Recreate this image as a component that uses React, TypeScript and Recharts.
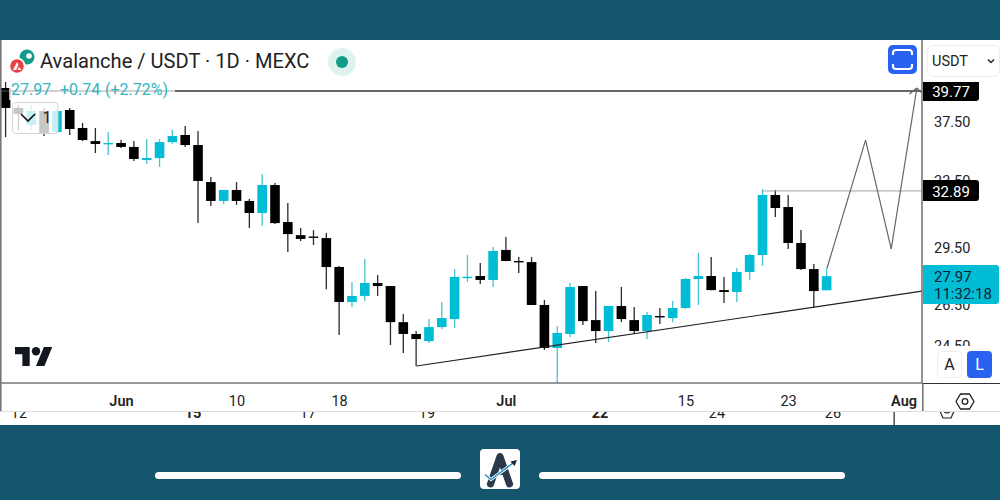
import React from 'react';
import { ComposedChart, Bar, XAxis, YAxis, ReferenceLine } from 'recharts';

const highs = [40.46,38.73,38.73,38.51,38.44,38.51,37.43,37.07,36.79,36.23,36.16,36.30,36.30,36.93,37.21,36.86,33.77,32.95,33.45,32.39,33.96,33.39,32.15,30.65,30.53,30.36,28.52,27.66,28.90,28.03,27.45,26.03,25.20,25.78,26.63,28.35,29.12,28.68,29.57,30.13,29.01,29.01,26.73,25.44,27.61,27.45,27.19,26.43,27.40,26.38,26.13,26.33,26.68,27.88,29.23,29.01,27.93,28.41,29.18,33.01,32.95,32.64,30.53,28.62,28.41];
const opens = [40.00,38.51,37.29,38.29,36.79,38.36,37.07,36.16,35.96,36.03,35.76,34.88,35.01,36.09,36.58,35.89,33.45,32.27,32.95,32.27,31.54,33.26,31.00,30.24,30.16,30.07,28.46,26.63,26.94,27.61,27.45,25.63,25.06,24.72,25.39,25.78,27.91,27.98,27.77,29.40,28.79,28.73,26.48,24.40,25.06,27.45,25.73,25.20,26.43,25.73,25.20,25.93,25.83,26.33,27.82,27.98,27.24,27.14,28.19,29.12,32.64,31.90,29.79,28.35,27.23];
const closes = [38.51,38.07,38.29,36.72,38.29,37.00,36.23,35.96,36.03,35.76,34.95,35.01,36.09,36.51,35.89,33.52,32.27,32.95,32.27,31.54,33.26,30.94,30.30,30.02,30.12,28.46,26.63,26.94,27.61,27.45,25.63,25.06,24.82,25.39,25.83,27.93,27.94,27.77,29.34,28.79,28.73,26.48,24.40,25.11,27.40,25.68,25.20,26.43,25.78,25.20,25.98,25.88,26.33,27.82,27.98,27.24,27.14,28.19,29.12,32.64,31.84,29.79,28.35,27.19,27.97];
const lows = [36.44,36.93,36.93,36.51,36.72,36.58,36.16,35.35,35.22,35.69,34.81,34.62,34.42,35.96,35.76,30.94,31.96,32.09,32.03,30.65,30.77,30.88,29.29,29.90,29.68,27.29,25.01,26.38,26.68,26.94,24.54,24.17,23.58,24.63,25.30,25.35,27.66,27.56,27.40,28.78,28.14,26.48,24.31,22.83,24.91,25.49,24.63,24.68,25.63,25.06,24.82,25.54,25.63,26.28,26.48,27.23,26.58,26.63,27.77,28.52,31.30,29.46,28.30,26.33,27.23];

const dayTicks = [9, 18, 26, 39, 53, 61, 70];
const dayLabels = ['Jun', '10', '18', 'Jul', '15', '23', 'Aug'];
const boldDays = ['Jun', 'Jul', 'Aug'];
const priceTicks = [37.5, 33.5, 29.5, 26.5, 24.5];
const ghostDays = ['12', '15', '17', '19', '22', '24', '26'];
const ghostBold = ['15', '22'];

const zigzagDays = [64, 67, 69, 71];
const zigzagPrices = [28.41, 36.23, 29.46, 40.0];
const arrowDays = [70.42, 71, 71.4];
const arrowPrices = [39.55, 40.0, 39.62];
const trendDays = [32, 71.4];
const trendPrices = [23.58, 27.19];
const resistance = 32.89;
const target = 39.77;

const rows = highs.map((h, i) => ({ i, high: h, open: opens[i], close: closes[i], low: lows[i], range: [lows[i], h] }));

const FONT = 'Roboto, sans-serif';
const CYAN = '#00bcd4';
const BAND = '#14546d';

function Candle(props: any) {
  const { x, y, width, height, payload } = props;
  const cx = x + width / 2;
  const span = Math.log(payload.high / payload.low) || 1;
  const py = (p: number) => y + (height * Math.log(payload.high / p)) / span;
  const up = payload.close >= payload.open;
  const top = py(Math.max(payload.open, payload.close));
  const bottom = py(Math.min(payload.open, payload.close));
  return (
    <g>
      <line x1={cx} x2={cx} y1={y} y2={y + height} stroke={up ? '#48c3cf' : '#2a2a2a'} strokeWidth={1.3} />
      <rect x={cx - 4.8} y={top} width={9.6} height={Math.max(bottom - top, 1.4)} fill={up ? CYAN : '#000'} />
    </g>
  );
}

function DayTick(props: any) {
  const { x, payload } = props;
  const label = dayLabels[dayTicks.indexOf(payload.value)];
  return (
    <text x={x} y={406} textAnchor="middle" fontFamily={FONT} fontSize={14.5} fontWeight={boldDays.includes(label) ? 600 : 400} fill="#222">
      {label}
    </text>
  );
}

function PriceTick(props: any) {
  const { y, payload } = props;
  return (
    <text x={934} y={y + 5} fontFamily={FONT} fontSize={14.5} fill="#222">
      {payload.value.toFixed(2)}
    </text>
  );
}

const seg = (x1: number, y1: number, x2: number, y2: number, stroke: string, w: number, key: string) => (
  <ReferenceLine
    key={key}
    segment={[{ x: x1, y: y1 }, { x: x2, y: y2 }]}
    stroke={stroke}
    strokeWidth={w}
    ifOverflow="visible"
  />
);

const ghostXs = [19, 193, 308, 427, 600, 717, 833];

function Overlay() {
  return (
    <svg width={1000} height={500} style={{ position: 'absolute', left: 0, top: 0, pointerEvents: 'none' }}>
      <defs>
        <clipPath id="ghost"><rect x={0} y={412} width={1000} height={13} /></clipPath>
      </defs>
      {/* frame */}
      <rect x={0} y={40} width={1.6} height={372} fill="#777" />
      <rect x={922} y={383} width={1.6} height={29} fill="#777" />
      <rect x={923} y={383} width={77} height={1} fill="#333" />
      <rect x={0} y={411} width={1000} height={1} fill="#dcdcdc" />
      <g clipPath="url(#ghost)" fontFamily={FONT} fontSize={14.5} fill="#222" textAnchor="middle">
        {ghostDays.map((d, i) => (
          <text key={d} x={ghostXs[i]} y={418} fontWeight={ghostBold.includes(d) ? 700 : 400}>{d}</text>
        ))}
        <rect x={893.5} y={412} width={1.3} height={13} fill="#333" />
        <path d="M939 409 L955 409 L951 418 L943 418 Z M947 410 m-3 0 a3 3 0 1 0 6 0 a3 3 0 1 0 -6 0" fill="none" stroke="#222" strokeWidth={1.2} />
      </g>

      {/* header */}
      <circle cx={27} cy={57} r={7.5} fill="#129a8a" />
      <circle cx={29} cy={56} r={2.8} fill="#fff" />
      <circle cx={17} cy={66} r={8.5} fill="#fff" />
      <circle cx={17} cy={66} r={6.8} fill="#e84142" />
      <path d="M13 70 L17 62 L18.5 65 L16 70 Z M19 67 L21.5 70 L17.5 70 Z" fill="#fff" />
      <text x={40} y={68} fontFamily={FONT} fontSize={20.1} fill="#222">Avalanche / USDT · 1D · MEXC</text>
      <circle cx={342} cy={62} r={14} fill="#dff2ef" />
      <circle cx={342} cy={62} r={6} fill="#0f9d8a" />

      {/* legend */}
      <rect x={9} y={80} width={166} height={20} fill="#fff" fillOpacity={0.7} />
      <g fontFamily={FONT} fontSize={16} fill="#33b5bf">
        <text x={11} y={94.5}>27.97</text>
        <text x={60} y={94.5}>+0.74</text>
        <text x={105} y={94.5}>(+2.72%)</text>
      </g>
      <rect x={12.5} y={102.5} width={45.5} height={31} rx={3} fill="#fff" fillOpacity={0.78} stroke="#d4d4d4" />
      <path d="M21 114 L28 121 L35 114" fill="none" stroke="#111" strokeWidth={1.6} />
      <text x={47} y={123} fontFamily={FONT} fontSize={16} fill="#222" textAnchor="middle">1</text>

      {/* watermark */}
      <g transform="translate(15 342.8) scale(1.05)" fill="#131722">
        <path d="M14 22H7V11H0V4h14v18zM28 22h-8l7.5-18h8L28 22z" />
        <circle cx="20" cy="8" r="4" />
      </g>

      {/* top-right buttons */}
      <rect x={888} y={45} width={29} height={29} rx={5} fill="#2962f0" />
      <path d="M893 55 V53 a3 3 0 0 1 3 -3 H909 a3 3 0 0 1 3 3 V55 M893 64 V66 a3 3 0 0 0 3 3 H909 a3 3 0 0 0 3 -3 V64" fill="none" stroke="#fff" strokeWidth={2.1} />
      <rect x={927.5} y={45.5} width={72} height={31} rx={6} fill="#fff" stroke="#ececec" />
      <text x={932} y={65.5} fontFamily={FONT} fontSize={14.5} fill="#222">USDT</text>
      <path d="M988 59.5 L991 62.5 L994 59.5" fill="none" stroke="#222" strokeWidth={1.4} />

      {/* price labels */}
      <path d="M923 82 H979 V98 a3 3 0 0 1 -3 3 H923 Z" fill="#000" />
      <text x={951} y={96.5} fontFamily={FONT} fontSize={15} fill="#fff" textAnchor="middle">39.77</text>
      <path d="M923 180 H976 a3 3 0 0 1 3 3 V198 a3 3 0 0 1 -3 3 H923 Z" fill="#000" />
      <text x={951} y={196.5} fontFamily={FONT} fontSize={15} fill="#fff" textAnchor="middle">32.89</text>
      <path d="M923 265 H996 a3 3 0 0 1 3 3 V301 a3 3 0 0 1 -3 3 H923 Z" fill={CYAN} />
      <text x={934} y={282} fontFamily={FONT} fontSize={15} fill="#123">27.97</text>
      <text x={934} y={299} fontFamily={FONT} fontSize={15} fill="#123">11:32:18</text>

      {/* lock row */}
      <rect x={924} y={346} width={76} height={37} fill="#fff" />
      <rect x={937.5} y={351.5} width={24} height={26} rx={4} fill="#fff" stroke="#ededed" />
      <text x={949.5} y={370} fontFamily={FONT} fontSize={16} fill="#222" textAnchor="middle">A</text>
      <rect x={967} y={351} width={25} height={27} rx={4} fill="#2962f0" />
      <text x={979.5} y={370} fontFamily={FONT} fontSize={16} fill="#fff" textAnchor="middle">L</text>

      {/* settings */}
      <path d="M956 401.5 L960.5 394 L969.5 394 L974 401.5 L969.5 409 L960.5 409 Z" fill="none" stroke="#222" strokeWidth={1.3} />
      <circle cx={965} cy={401.5} r={2.8} fill="none" stroke="#222" strokeWidth={1.3} />

      {/* footer */}
      <rect x={155} y={472} width={306} height={7} rx={3.5} fill="#fff" />
      <rect x={539} y={472} width={306} height={7} rx={3.5} fill="#fff" />
      <rect x={480} y={449} width={40} height={40} rx={4} fill="#fff" />
      <path d="M490.5 484 L500 456.5 L509.5 484" fill="none" stroke="#2b3a4a" strokeWidth={7} strokeLinecap="round" strokeLinejoin="round" />
      <rect x={496} y={472} width={8} height={3} fill="#2b3a4a" />
      <path d="M485 474.5 L491 479.5 L514 462.5" fill="none" stroke="#fff" strokeWidth={3.2} />
      <path d="M485 474.5 L491 479.5 L513 463" fill="none" stroke="#2a93c9" strokeWidth={1.5} />
      <path d="M517 460 L514.5 466 L510.5 461.5 Z" fill="#16283a" />
    </svg>
  );
}

export default function App() {
  return (
    <div style={{ position: 'fixed', left: 0, top: 0, width: 1000, height: 500, background: BAND, overflow: 'hidden' }}>
      <div style={{ position: 'absolute', left: 0, top: 40, width: 1000, height: 385, background: '#fff' }} />
      <div style={{ position: 'absolute', left: 0, top: 0 }}>
        <ComposedChart width={1000} height={500} data={rows} margin={{ top: 40, right: 0, bottom: 89, left: 0 }}>
          <XAxis
            dataKey="i"
            type="number"
            domain={[-0.468, 71.4]}
            ticks={dayTicks}
            tick={<DayTick />}
            tickLine={false}
            axisLine={{ stroke: '#333', strokeWidth: 1 }}
            height={28}
            allowDataOverflow
          />
          <YAxis
            orientation="right"
            width={78}
            scale="log"
            type="number"
            domain={[22.83, 43.82]}
            ticks={priceTicks}
            tick={<PriceTick />}
            tickLine={false}
            axisLine={{ stroke: '#777', strokeWidth: 1.6 }}
            allowDataOverflow
          />
          <ReferenceLine y={target} stroke="#333" strokeWidth={1.3} ifOverflow="visible" />
          {seg(59, resistance, 71.4, resistance, '#a3a3a3', 1, 'res')}
          {seg(trendDays[0], trendPrices[0], trendDays[1], trendPrices[1], '#222', 1.2, 'trend')}
          {zigzagDays.slice(1).map((d, k) =>
            seg(zigzagDays[k], zigzagPrices[k], d, zigzagPrices[k + 1], '#666', 1.2, 'zig' + k)
          )}
          {arrowDays.slice(1).map((d, k) =>
            seg(arrowDays[k], arrowPrices[k], d, arrowPrices[k + 1], '#666', 1.2, 'arrow' + k)
          )}
          <Bar dataKey="range" barSize={10} shape={<Candle />} isAnimationActive={false} />
        </ComposedChart>
      </div>
      <Overlay />
    </div>
  );
}
